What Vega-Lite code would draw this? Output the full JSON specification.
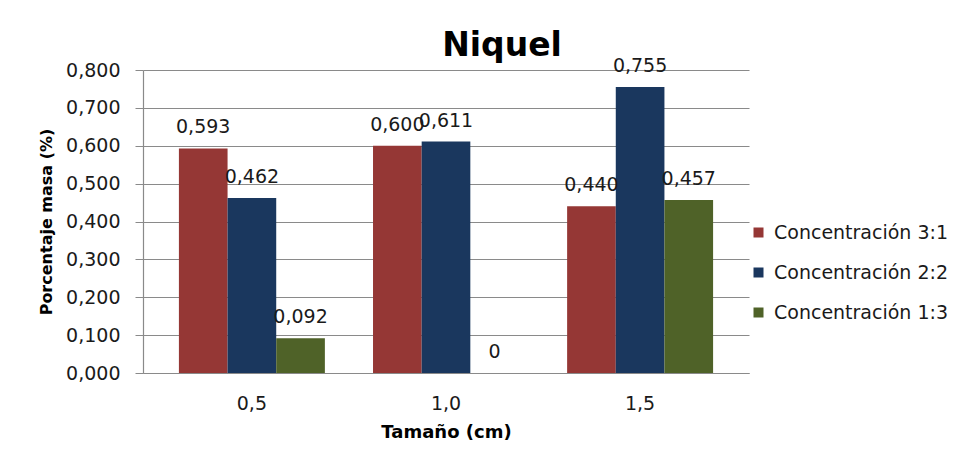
{
  "$schema": "https://vega.github.io/schema/vega-lite/v6.json",
  "width": 606,
  "height": 303,
  "autosize": {"type": "none"},
  "padding": {"left": 143, "top": 70, "right": 217, "bottom": 89},
  "background": "white",
  "config": {
    "locale": {"number": {"decimal": ",", "thousands": ".", "grouping": [3], "currency": ["", " €"]}},
    "font": "DejaVu Sans",
    "view": {"stroke": null}
  },
  "title": {
    "text": "Niquel",
    "font": "DejaVu Sans",
    "fontSize": 33,
    "fontWeight": "bold",
    "color": "#000000",
    "anchor": "middle",
    "baseline": "alphabetic",
    "dx": 56,
    "offset": -32
  },
  "data": {
    "values": [
      {"tamano": "0,5", "serie": "Concentración 3:1", "v": 0.593},
      {"tamano": "0,5", "serie": "Concentración 2:2", "v": 0.462},
      {"tamano": "0,5", "serie": "Concentración 1:3", "v": 0.092},
      {"tamano": "1,0", "serie": "Concentración 3:1", "v": 0.600},
      {"tamano": "1,0", "serie": "Concentración 2:2", "v": 0.611},
      {"tamano": "1,0", "serie": "Concentración 1:3", "v": 0},
      {"tamano": "1,5", "serie": "Concentración 3:1", "v": 0.440},
      {"tamano": "1,5", "serie": "Concentración 2:2", "v": 0.755},
      {"tamano": "1,5", "serie": "Concentración 1:3", "v": 0.457}
    ]
  },
  "transform": [
    {"calculate": "datum.v == 0 ? '0' : replace(format(datum.v, '.3f'), '.', ',')", "as": "etiqueta"}
  ],
  "encoding": {
    "x": {
      "field": "tamano",
      "type": "nominal",
      "sort": ["0,5", "1,0", "1,5"],
      "scale": {"paddingInner": 0.248, "paddingOuter": 0.185},
      "axis": {
        "title": "Tamaño (cm)",
        "titleFontSize": 18,
        "titleFontWeight": "bold",
        "titleColor": "#000000",
        "titlePadding": 10,
        "labelAngle": 0,
        "labelFontSize": 19,
        "labelColor": "#1a1a1a",
        "labelPadding": 21,
        "ticks": false,
        "domainColor": "#8a8a8a",
        "domainWidth": 1.2
      }
    },
    "xOffset": {
      "field": "serie",
      "type": "nominal",
      "sort": ["Concentración 3:1", "Concentración 2:2", "Concentración 1:3"],
      "scale": {"paddingInner": 0, "paddingOuter": 0}
    },
    "y": {
      "field": "v",
      "type": "quantitative",
      "scale": {"domain": [0, 0.8], "nice": false},
      "axis": {
        "title": "Porcentaje masa (%)",
        "titleFontSize": 16,
        "titleFontWeight": "bold",
        "titleColor": "#000000",
        "titlePadding": 11,
        "values": [0, 0.1, 0.2, 0.3, 0.4, 0.5, 0.6, 0.7, 0.8],
        "format": ".3f",
        "labelFontSize": 19,
        "labelColor": "#1a1a1a",
        "labelPadding": 15,
        "tickSize": 8,
        "tickColor": "#8a8a8a",
        "domainColor": "#8a8a8a",
        "domainWidth": 1.2,
        "grid": true,
        "gridColor": "#8a8a8a",
        "gridWidth": 1.2
      }
    }
  },
  "layer": [
    {
      "mark": {"type": "bar"},
      "encoding": {
        "color": {
          "field": "serie",
          "type": "nominal",
          "sort": ["Concentración 3:1", "Concentración 2:2", "Concentración 1:3"],
          "scale": {
            "domain": ["Concentración 3:1", "Concentración 2:2", "Concentración 1:3"],
            "range": ["#953735", "#1a375e", "#4f6228"]
          },
          "legend": {
            "title": null,
            "orient": "none",
            "legendX": 606,
            "legendY": 153,
            "padding": 0,
            "symbolType": "square",
            "symbolSize": 100,
            "symbolStrokeWidth": 0,
            "labelFontSize": 19,
            "labelLimit": 0,
            "labelColor": "#1a1a1a",
            "labelOffset": 6,
            "rowPadding": 20
          }
        }
      }
    },
    {
      "mark": {"type": "text", "baseline": "alphabetic", "dy": -15, "fontSize": 19, "color": "#1a1a1a"},
      "encoding": {"text": {"field": "etiqueta"}}
    }
  ]
}
